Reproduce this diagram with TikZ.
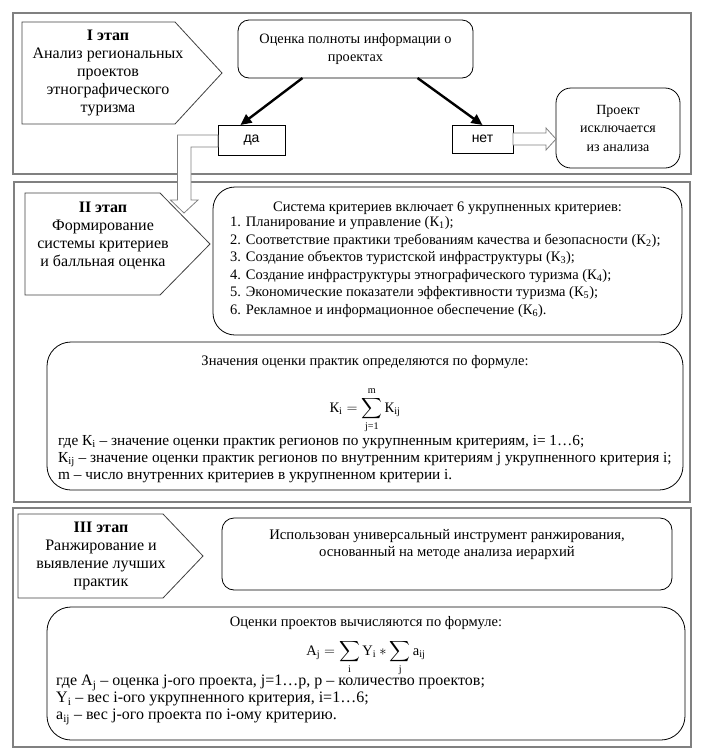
\documentclass[tikz,border=0pt]{standalone}
\usepackage{fontspec}
\usepackage{amsmath}
\setmainfont{Liberation Serif}
\newfontfamily\arialfont{Liberation Sans}
\usetikzlibrary{positioning,arrows.meta,calc}

\begin{document}
\begin{tikzpicture}[
x=1pt, y=-1pt,
every node/.style={font=\fontsize{16}{18}\selectfont},
boxtext/.style={font=\fontsize{14.5}{17.5}\selectfont},
stageframe/.style={rectangle, draw=black!50, line width=2pt, anchor=north west, inner sep=0pt, outer sep=0pt},
stagepath/.style={draw=black!75, line width=0.8pt},
box/.style={rectangle, draw, rounded corners=12pt, anchor=north west, line width=0.8pt, outer sep=0pt},
bigbox/.style={box, rounded corners=24pt},
answer/.style={rectangle, draw, anchor=north west, line width=0.8pt, outer sep=0pt, font=\arialfont\fontsize{14}{16}\selectfont},
link/.style={line width=2.4pt, -{Triangle[length=11pt,width=10pt]}},
hollow/.style={draw=black!50, fill=white, line width=0.8pt}
]
\useasboundingbox (0,0) rectangle (704,756);

% frames of the three stages
\node[stageframe, minimum width=678pt, minimum height=161pt] (frame1) at (13,13) {};
\node[stageframe, minimum width=676pt, minimum height=320pt] (frame2) at (14,182) {};
\node[stageframe, minimum width=678pt, minimum height=239pt] (frame3) at (13,508) {};

% stage I
\draw[stagepath] (22,22) -- (175,22) -- (222,73) -- (175,124) -- (22,124) -- cycle;
\node[align=center] (st1) at (108,73) {\textbf{I этап}\\Анализ региональных\\проектов\\этнографического\\туризма};

\node[box, align=center, minimum width=235pt, minimum height=58pt, rounded corners=11pt, font=\fontsize{14.3}{18}\selectfont] (check) at (238,20) {Оценка полноты информации о\\проектах};
\node[answer, minimum width=67pt, minimum height=30pt] (yes) at (218,125) {да};
\node[answer, minimum width=61pt, minimum height=28pt] (no) at (452,125) {нет};
\node[box, align=center, minimum width=124pt, minimum height=80pt, rounded corners=15pt, font=\fontsize{14}{18.5}\selectfont] (excl) at (556,88) {Проект\\исключается\\из анализа};

\draw[link] ([xshift=-53pt]check.south) -- ([xshift=-11pt]yes.north);
\draw[link] ([xshift=62pt]check.south) -- (no.north);

% stage II
\draw[stagepath] (25,193) -- (160,193) -- (210,244) -- (160,295) -- (25,295) -- cycle;
\node[align=center] (st2) at (103,236) {\textbf{II этап}\\Формирование\\системы критериев\\и балльная оценка};
\coordinate (st2in) at (184,213);

\node[box, rounded corners=22pt, minimum width=469pt, minimum height=148pt] (crit) at (213,187) {};
\node[boxtext, inner sep=1pt] (crittitle) at (447.5,208) {Система критериев включает 6 укрупненных критериев:};
\node[boxtext, anchor=west, align=left, inner sep=0pt] (critlist) at (230,267) {1. Планирование и управление (К\textsubscript{1});\\
2. Соответствие практики требованиям качества и безопасности (К\textsubscript{2});\\
3. Создание объектов туристской инфраструктуры (К\textsubscript{3});\\
4. Создание инфраструктуры этнографического туризма (К\textsubscript{4});\\
5. Экономические показатели эффективности туризма (К\textsubscript{5});\\
6. Рекламное и информационное обеспечение (К\textsubscript{6}).};

\node[bigbox, minimum width=636pt, minimum height=148pt] (formK) at (47,342) {};
\node[boxtext, inner sep=0pt] (formKtitle) at (365,362) {Значения оценки практик определяются по формуле:};
\node[boxtext, inner sep=0pt] (formKeq) at (365,410) {$\displaystyle \text{К}_{\text{i}} = \sum_{\text{j=1}}^{\raisebox{1.5pt}{$\scriptstyle\text{m}$}} \text{К}_{\text{ij}}$};
\node[anchor=west, align=left, font=\fontsize{15.3}{17}\selectfont, inner sep=0pt] (formKtext) at (58,459) {где К\textsubscript{i} – значение оценки практик регионов по укрупненным критериям, i= 1…6;\\
К\textsubscript{ij} – значение оценки практик регионов по внутренним критериям j укрупненного критерия i;\\
m – число внутренних критериев в укрупненном критерии i.};

% stage III
\draw[stagepath] (18,514) -- (163,514) -- (203,556) -- (163,598) -- (18,598) -- cycle;
\node[align=center] (st3) at (101,556) {\textbf{III этап}\\Ранжирование и\\выявление лучших\\практик};

\node[box, minimum width=450pt, minimum height=72pt] (ahp) at (222,518) {};
\node[align=center, font=\fontsize{14.7}{17}\selectfont] (ahptext) at (447,545) {Использован универсальный инструмент ранжирования,\\основанный на методе анализа иерархий};

\node[bigbox, minimum width=638pt, minimum height=133pt] (formA) at (47,607) {};
\node[boxtext, inner sep=0pt] (formAtitle) at (366,623) {Оценки проектов вычисляются по формуле:};
\node[boxtext, inner sep=0pt] (formAeq) at (366,658) {$\displaystyle \text{A}_{\text{j}} = \sum_{\text{i}} \text{Y}_{\text{i}} * \sum_{\text{j}} \text{a}_{\text{ij}}$};
\node[anchor=west, align=left, font=\fontsize{16}{17}\selectfont, inner sep=0pt] (formAtext) at (56,700) {где A\textsubscript{j} – оценка j-ого проекта, j=1…p, p – количество проектов;\\
Y\textsubscript{i} – вес i-ого укрупненного критерия, i=1…6;\\
a\textsubscript{ij} – вес j-ого проекта по i-ому критерию.};

% hollow arrows
\draw[hollow] ([yshift=6pt]no.east) -- ++(33,0) -- ++(0,-5) -- (excl.west |- no.east) -- ++(-10,11) -- ++(0,-5) -- ([yshift=-6pt]no.east) -- cycle;
\draw[hollow] ([yshift=5pt]yes.west) -| ($(st2in)+(-6.5,-13)$) -- ++(-7,0) -- (st2in) -- ++(14,-13) -- ++(-7,0) |- ([yshift=-7pt]yes.west) -- cycle;

\end{tikzpicture}
\end{document}
